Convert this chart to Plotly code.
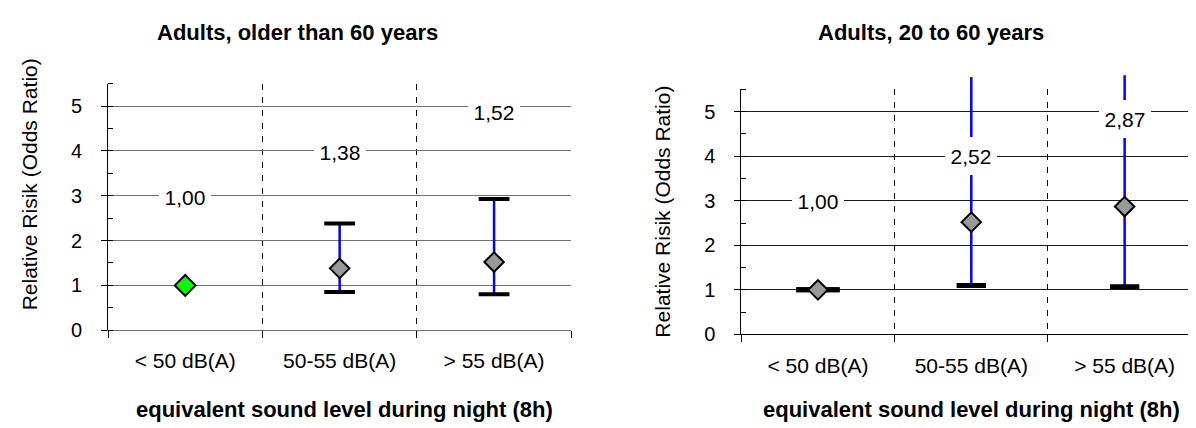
import plotly.graph_objects as go

# ---------------- data ----------------
categories = ["< 50 dB(A)", "50-55 dB(A)", "> 55 dB(A)"]
titles = ["Adults, older than 60 years", "Adults, 20 to 60 years"]
x_title = "equivalent sound level during night (8h)"
y_title = "Relative Risik (Odds Ratio)"

left_or = [1.00, 1.38, 1.52]
left_lo = [1.00, 0.85, 0.80]
left_hi = [1.00, 2.38, 2.93]

right_or = [1.00, 2.52, 2.87]
right_lo = [1.00, 1.10, 1.07]
right_hi = [1.00, 5.78, 5.82]

y_ticks = [0, 1, 2, 3, 4, 5]
Y_MAX = 5.5

# ---------------- layout / style ----------------
W, H = 1196, 428
FONT = "Liberation Sans, Arial, sans-serif"


def px_x(v):
    return v / W


def px_y(v):
    return 1 - v / H


PANELS = [
    dict(left=100, right=563.3, top=77.7, bottom=330.7,
         grid="#707070", base="#707070",
         vals=(left_or, left_lo, left_hi),
         face=["#00ff00", "#999999", "#999999"], msize=[16, 15, 15],
         cap=[0, 22, 22], capw=4,
         title=titles[0], title_x=289, xtitle_x=336, ytitle_x=21, ytitle_y=181,
         label_y=[2.97, 3.98, 4.87]),
    dict(left=733.3, right=1193.3, top=83.6, bottom=335.0,
         grid="#1a1a1a", base="#000000",
         vals=(right_or, right_lo, right_hi),
         face=["#999999", "#999999", "#999999"], msize=[15, 15, 15],
         cap=[31, 21, 21], capw=5,
         title=titles[1], title_x=923, xtitle_x=963, ytitle_x=655, ytitle_y=209,
         label_y=[3.00, 4.00, 4.83]),
]

xpos = [i + 1 for i in range(len(categories))]
boundaries = [i + 0.5 for i in range(len(categories) + 1)]
fmt = lambda v: f"{v:.2f}".replace(".", ",")

fig = go.Figure()
layout = dict(width=W, height=H, autosize=False,
              margin=dict(l=0, r=0, t=0, b=0, pad=0),
              paper_bgcolor="white", plot_bgcolor="rgba(0,0,0,0)",
              showlegend=False,
              font=dict(family=FONT, color="black", size=20))
annotations = []

for i, p in enumerate(PANELS):
    m = i + 1          # main axes index
    d = i + 3          # data (overlay) axes index
    mk = "" if m == 1 else str(m)
    dk = str(d)
    xdom = [px_x(p["left"]), px_x(p["right"])]
    y0, y1 = px_y(p["bottom"]), px_y(p["top"])

    layout["xaxis" + mk] = dict(
        domain=xdom, anchor="y" + mk, range=[0.5, len(categories) + 0.5],
        tickmode="array", tickvals=xpos, ticktext=categories, ticks="",
        showgrid=False, zeroline=False, showline=True, linecolor=p["base"], linewidth=1,
        tickfont=dict(size=21, color="black", family=FONT), ticklabelstandoff=12,
        minor=dict(tickmode="array", tickvals=boundaries, ticks="outside", ticklen=7,
                   tickcolor="black", tickwidth=1, showgrid=True, gridcolor="black",
                   gridwidth=1, griddash="6px,7px"),
        fixedrange=True)
    layout["yaxis" + mk] = dict(
        domain=[y0, y1], anchor="x" + mk, range=[0, Y_MAX],
        tickmode="array", tickvals=y_ticks, ticks="outside", ticklen=6, tickwidth=1,
        tickcolor="black", showgrid=True, gridcolor=p["grid"], gridwidth=1,
        zeroline=False, showline=True, linecolor="black", linewidth=1,
        tickfont=dict(size=20, color="black", family=FONT), ticklabelstandoff=15,
        minor=dict(dtick=0.5, tick0=0, ticks="inside", ticklen=5, tickcolor="black",
                   tickwidth=1, showgrid=False),
        fixedrange=True)

    # overlay axes with the same scale, extended upward so CI lines may pass the top
    ext_top = Y_MAX * (1.0 - y0) / (y1 - y0)
    layout["xaxis" + dk] = dict(domain=xdom, anchor="y" + dk,
                                range=[0.5, len(categories) + 0.5], visible=False,
                                fixedrange=True)
    layout["yaxis" + dk] = dict(domain=[y0, 1.0], anchor="x" + dk, range=[0, ext_top],
                                visible=False, fixedrange=True)

    ors, los, his = p["vals"]
    # CI lines
    lx, ly = [], []
    for x, lo, hi in zip(xpos, los, his):
        lx += [x, x, None]
        ly += [lo, hi, None]
    fig.add_trace(go.Scatter(x=lx, y=ly, mode="lines", xaxis="x" + dk, yaxis="y" + dk,
                             line=dict(color="#0000ff", width=2.5), hoverinfo="skip"))
    # caps (only where the bound lies inside the axis range)
    cx, cy, cs = [], [], []
    for x, lo, hi, s in zip(xpos, los, his, p["cap"]):
        for v in (lo, hi):
            if v <= Y_MAX and s > 0:
                cx.append(x)
                cy.append(v)
                cs.append(s)
    fig.add_trace(go.Scatter(x=cx, y=cy, mode="markers", xaxis="x" + dk, yaxis="y" + dk,
                             marker=dict(symbol="line-ew", size=cs, opacity=1,
                                         line=dict(color="black", width=p["capw"])),
                             hoverinfo="skip"))
    # odds ratio diamonds
    fig.add_trace(go.Scatter(x=xpos, y=ors, mode="markers", xaxis="x" + dk, yaxis="y" + dk,
                             marker=dict(symbol="diamond", size=p["msize"], color=p["face"],
                                         opacity=1, line=dict(color="black", width=2))))

    # value labels
    for x, v, ly_ in zip(xpos, ors, p["label_y"]):
        annotations.append(dict(x=x, y=ly_, xref="x" + mk, yref="y" + mk, text=fmt(v),
                                showarrow=False, bgcolor="white", width=46, height=32,
                                borderpad=3, borderwidth=0,
                                font=dict(size=21, color="black", family=FONT)))
    # titles
    annotations.append(dict(x=px_x(p["title_x"]), y=px_y(25), xref="paper", yref="paper",
                            text="<b>" + p["title"] + "</b>", showarrow=False,
                            xanchor="center", yanchor="middle",
                            font=dict(size=22, color="black", family=FONT)))
    annotations.append(dict(x=px_x(p["xtitle_x"]), y=px_y(412), xref="paper", yref="paper",
                            text="<b>" + x_title + "</b>", showarrow=False,
                            xanchor="center", yanchor="middle",
                            font=dict(size=22, color="black", family=FONT)))
    annotations.append(dict(x=px_x(p["ytitle_x"]), y=px_y(p["ytitle_y"]), xref="paper",
                            yref="paper", text=y_title, textangle=-90, showarrow=False,
                            xanchor="center", yanchor="middle",
                            font=dict(size=21, color="black", family=FONT)))

layout["annotations"] = annotations
fig.update_layout(**layout)
fig.write_html("out.html")
